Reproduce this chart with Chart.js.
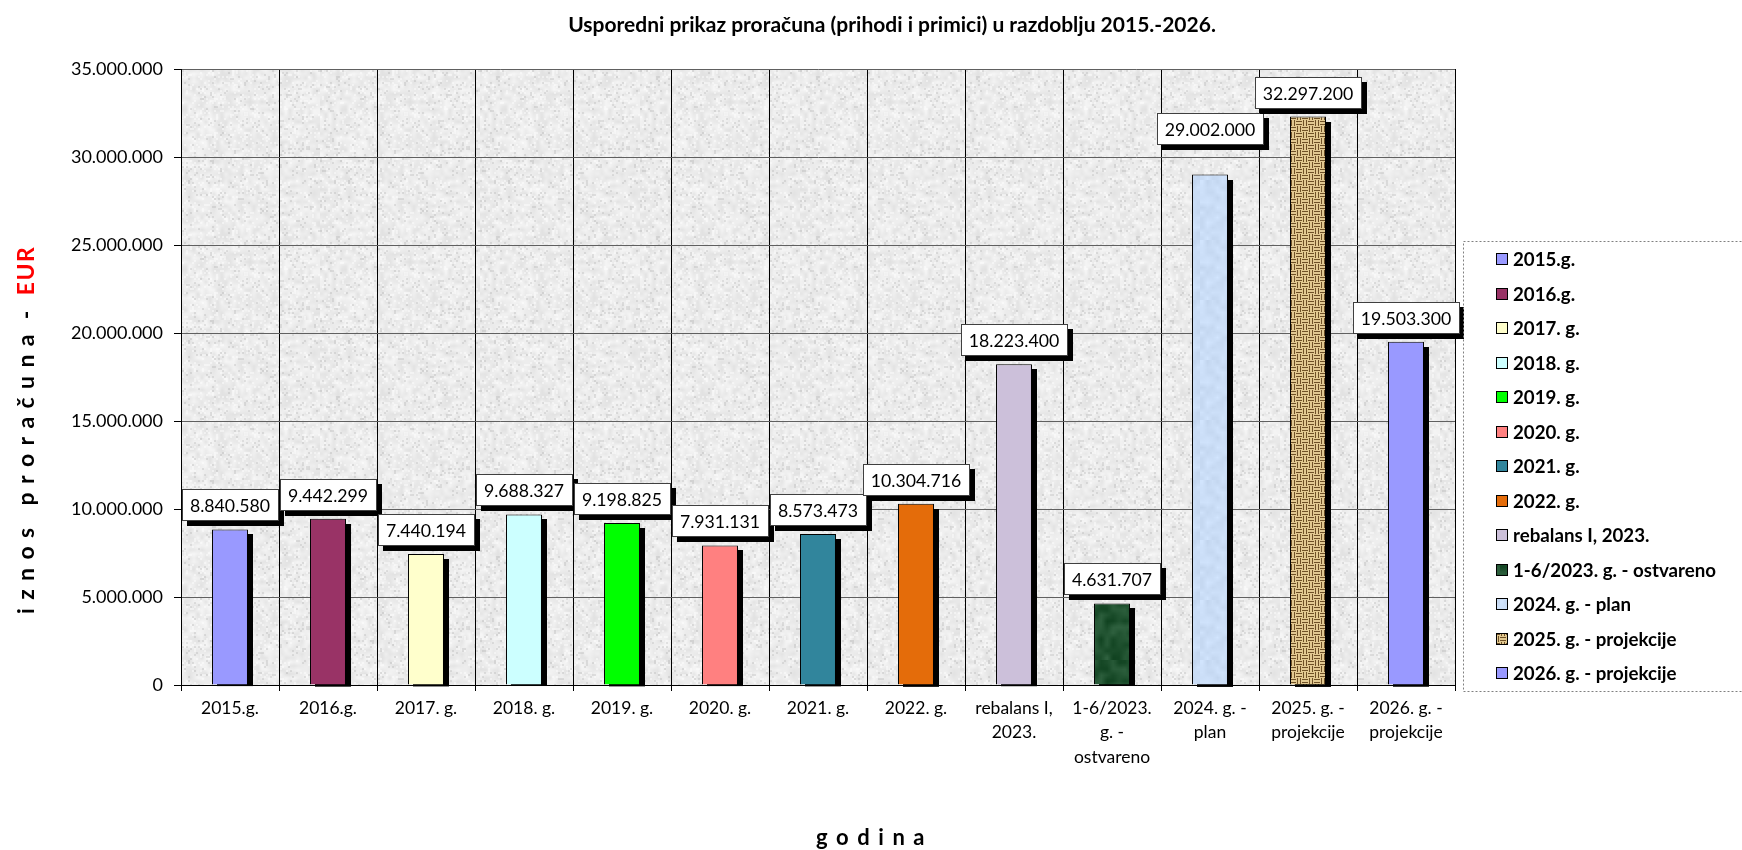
<!DOCTYPE html>
<html>
<head>
<meta charset="utf-8">
<title>Usporedni prikaz proračuna 2015.-2026.</title>
<script src="https://cdn.jsdelivr.net/npm/chart.js@4.4.1/dist/chart.umd.min.js"></script>
<style>
    html, body { margin: 0; padding: 0; background: #fff; }
    #wrap { width: 1742px; height: 850px; }
</style>
</head>
<body>
<div id="wrap"><canvas id="budgetChart" width="1742" height="850"></canvas></div>
<script>
// data
const legendNames = ['2015.g.', '2016.g.', '2017. g.', '2018. g.', '2019. g.', '2020. g.', '2021. g.', '2022. g.',
    'rebalans I, 2023.', '1-6/2023. g. - ostvareno', '2024. g. - plan', '2025. g. - projekcije', '2026. g. - projekcije'];
const tickLabels = ['2015.g.', '2016.g.', '2017. g.', '2018. g.', '2019. g.', '2020. g.', '2021. g.', '2022. g.',
    ['rebalans I,', '2023.'], ['1-6/2023.', 'g. -', 'ostvareno'], ['2024. g. -', 'plan'],
    ['2025. g. -', 'projekcije'], ['2026. g. -', 'projekcije']];
const amounts = [8840580, 9442299, 7440194, 9688327, 9198825, 7931131, 8573473, 10304716,
    18223400, 4631707, 29002000, 32297200, 19503300];
const yMin = 0;
const yMax = 35000000;
const yStep = 5000000;

const chartTitle = 'Usporedni prikaz proračuna (prihodi i primici) u razdoblju 2015.-2026.';
const yTitleText = 'i z n o s   p r o r a č u n a  -  ';
const yTitleUnit = 'EUR';
const xTitleText = 'g o d i n a';

const FONT = 'Lato, "Open Sans", sans-serif';

function formatAmount(v) {
    return String(v).replace(/\B(?=(\d{3})+(?!\d))/g, '.');
}

// small deterministic hash, used only for the paper-like textures
function hash(x, y, s) {
    let h = (x * 374761393 + y * 668265263 + s * 1442695041) | 0;
    h = Math.imul(h ^ (h >>> 13), 1274126177);
    return ((h ^ (h >>> 16)) >>> 0) / 4294967295;
}

// soft mottled texture: coarse noise smoothed up, plus optional fine speckles
function makeMottle(size, cells, rgb, spread, seed, speckle) {
    const small = document.createElement('canvas');
    small.width = small.height = cells;
    const sg = small.getContext('2d');
    for (let y = 0; y < cells; y++) {
        for (let x = 0; x < cells; x++) {
            const d = (hash(x, y, seed) - 0.5) * spread;
            sg.fillStyle = 'rgb(' + rgb.map(c => Math.round(c + d)).join(',') + ')';
            sg.fillRect(x, y, 1, 1);
        }
    }
    const c = document.createElement('canvas');
    c.width = c.height = size;
    const g = c.getContext('2d');
    g.imageSmoothingEnabled = true;
    g.drawImage(small, 0, 0, size, size);
    if (speckle) {
        for (let y = 0; y < size; y += 2) {
            for (let x = 0; x < size; x += 2) {
                const r = hash(x, y, seed + 11);
                if (r < 0.12) { g.fillStyle = 'rgba(255,255,255,0.45)'; g.fillRect(x, y, 2, 2); }
                else if (r > 0.92) { g.fillStyle = 'rgba(120,120,120,0.16)'; g.fillRect(x, y, 2, 2); }
            }
        }
    }
    return c;
}

function makeBurlap() {
    const c = document.createElement('canvas');
    c.width = c.height = 12;
    const g = c.getContext('2d');
    g.fillStyle = '#e2c991';
    g.fillRect(0, 0, 12, 12);
    g.fillStyle = '#6e5026';
    for (let by = 0; by < 2; by++) {
        for (let bx = 0; bx < 2; bx++) {
            const ox = bx * 6, oy = by * 6;
            if ((bx + by) % 2 === 0) {
                g.fillRect(ox, oy + 1, 6, 1);
                g.fillRect(ox, oy + 4, 6, 1);
            } else {
                g.fillRect(ox + 1, oy, 1, 6);
                g.fillRect(ox + 4, oy, 1, 6);
            }
        }
    }
    return c;
}

document.addEventListener('DOMContentLoaded', function() {
    const ctx = document.getElementById('budgetChart').getContext('2d');

    const paper = ctx.createPattern(makeMottle(160, 40, [236, 236, 236], 22, 7, true), 'repeat');
    const greenMarble = ctx.createPattern(makeMottle(60, 10, [32, 82, 48], 34, 3, false), 'repeat');
    const paleBlue = ctx.createPattern(makeMottle(60, 12, [202, 221, 246], 16, 5, false), 'repeat');
    const burlap = ctx.createPattern(makeBurlap(), 'repeat');

    const barColors = ['#9999ff', '#993366', '#ffffcc', '#ccffff', '#00ff00', '#ff8080', '#31859c', '#e46c0a',
        '#ccc0da', greenMarble, paleBlue, burlap, '#9999ff'];

    // the 29.002.000 label was lifted higher in the original
    const labelLift = { 10: 22 };

    const plotBackground = {
        id: 'plotBackground',
        beforeDraw(chart) {
            const { ctx, chartArea: a } = chart;
            ctx.save();
            ctx.fillStyle = '#fff';
            ctx.fillRect(0, 0, chart.width, chart.height);
            ctx.fillStyle = paper;
            ctx.fillRect(a.left, a.top, a.right - a.left, a.bottom - a.top);
            ctx.restore();
        }
    };

    const barShadow = {
        id: 'barShadow',
        beforeDatasetsDraw(chart) {
            const ctx = chart.ctx;
            ctx.save();
            ctx.fillStyle = '#000';
            chart.getDatasetMeta(0).data.forEach(bar => {
                const p = bar.getProps(['x', 'y', 'base', 'width'], true);
                ctx.fillRect(Math.round(p.x - p.width / 2) + 5, Math.round(p.y) + 5, Math.round(p.width), p.base - p.y - 3);
            });
            ctx.restore();
        }
    };

    const valueLabels = {
        id: 'valueLabels',
        afterDatasetsDraw(chart) {
            const ctx = chart.ctx;
            ctx.save();
            ctx.font = '17.7px ' + FONT;
            ctx.textAlign = 'center';
            ctx.textBaseline = 'middle';
            chart.getDatasetMeta(0).data.forEach((bar, i) => {
                const p = bar.getProps(['x', 'y'], true);
                const text = formatAmount(amounts[i]);
                const w = Math.round(ctx.measureText(text).width + 17);
                const h = 32;
                const bx = Math.round(p.x - w / 2);
                const by = Math.round(p.y - 8 - (labelLift[i] || 0) - h);
                ctx.fillStyle = '#000';
                ctx.fillRect(bx + 5, by + 5, w, h);
                ctx.fillStyle = '#fff';
                ctx.fillRect(bx, by, w, h);
                ctx.strokeStyle = '#404040';
                ctx.lineWidth = 1;
                ctx.strokeRect(bx + 0.5, by + 0.5, w - 1, h - 1);
                ctx.fillStyle = '#000';
                ctx.fillText(text, p.x, by + h / 2 + 1);
            });
            ctx.restore();
        }
    };

    const decorations = {
        id: 'decorations',
        afterDraw(chart) {
            const ctx = chart.ctx;
            ctx.save();

            // title
            ctx.fillStyle = '#000';
            ctx.textAlign = 'center';
            ctx.textBaseline = 'middle';
            ctx.font = 'bold 21px ' + FONT;
            ctx.fillText(chartTitle, 892, 25);

            // x axis title
            ctx.font = 'bold 22px ' + FONT;
            ctx.letterSpacing = '1.6px';
            ctx.fillText(xTitleText, 871, 838);

            // y axis title, black part then red unit
            ctx.font = 'bold 23px ' + FONT;
            ctx.letterSpacing = '1.4px';
            ctx.translate(27, 430);
            ctx.rotate(-Math.PI / 2);
            const w1 = ctx.measureText(yTitleText).width;
            const w2 = ctx.measureText(yTitleUnit).width;
            ctx.textAlign = 'left';
            ctx.fillText(yTitleText, -(w1 + w2) / 2, 0);
            ctx.fillStyle = '#ff0000';
            ctx.fillText(yTitleUnit, -(w1 + w2) / 2 + w1, 0);
            ctx.setTransform(1, 0, 0, 1, 0, 0);
            ctx.letterSpacing = '0px';

            // legend
            ctx.fillStyle = '#fff';
            ctx.fillRect(1464, 242, 290, 449);
            ctx.strokeStyle = '#808080';
            ctx.setLineDash([2, 2]);
            ctx.strokeRect(1463.5, 241.5, 290, 450);
            ctx.setLineDash([]);
            ctx.font = 'bold 18.7px ' + FONT;
            ctx.textAlign = 'left';
            legendNames.forEach((name, i) => {
                const cy = Math.round(259 + 34.5 * i);
                ctx.fillStyle = barColors[i];
                ctx.fillRect(1496, cy - 6, 12, 12);
                ctx.strokeStyle = '#000';
                ctx.strokeRect(1496.5, cy - 5.5, 11, 11);
                ctx.fillStyle = '#000';
                ctx.fillText(name, 1513, cy + 1);
            });
            ctx.restore();
        }
    };

    new Chart(ctx, {
        type: 'bar',
        data: {
            labels: tickLabels,
            datasets: [{
                label: 'Proračun',
                data: amounts,
                backgroundColor: barColors,
                borderColor: '#000',
                borderWidth: 1,
                categoryPercentage: 1,
                barPercentage: 0.367
            }]
        },
        options: {
            responsive: false,
            animation: false,
            layout: {
                padding: { top: 69, right: 287, left: 0, bottom: 0 }
            },
            scales: {
                x: {
                    afterFit: function(scale) { scale.height = 165; },
                    grid: {
                        offset: true,
                        color: '#000',
                        lineWidth: 1,
                        tickLength: 6,
                        tickColor: '#000'
                    },
                    border: { color: '#000', width: 1 },
                    ticks: {
                        autoSkip: false,
                        maxRotation: 0,
                        minRotation: 0,
                        padding: 5,
                        color: '#000',
                        font: { family: FONT, size: 17.5, lineHeight: 1.4 }
                    }
                },
                y: {
                    min: yMin,
                    max: yMax,
                    afterFit: function(scale) { scale.width = 181; },
                    grid: {
                        color: '#606060',
                        lineWidth: 1,
                        borderDash: [1, 1],
                        tickLength: 7,
                        tickColor: '#000',
                        tickBorderDash: []
                    },
                    border: { color: '#000', width: 1 },
                    ticks: {
                        stepSize: yStep,
                        padding: 11,
                        color: '#000',
                        font: { family: FONT, size: 18 },
                        callback: function(value) {
                            return formatAmount(value);
                        }
                    }
                }
            },
            plugins: {
                legend: { display: false },
                title: { display: false },
                tooltip: {
                    callbacks: {
                        label: function(context) {
                            return formatAmount(context.raw);
                        }
                    }
                }
            }
        },
        plugins: [plotBackground, barShadow, valueLabels, decorations]
    });
});
</script>
</body>
</html>
